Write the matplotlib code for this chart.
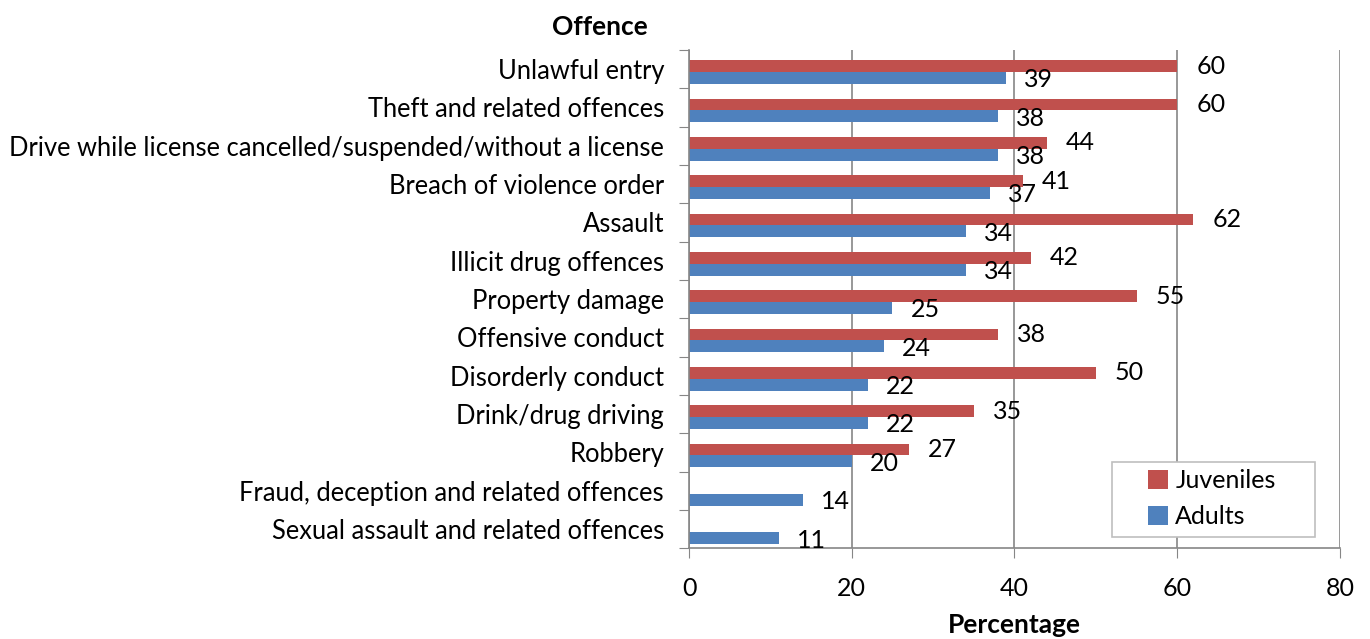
import matplotlib
matplotlib.use('Agg')
import matplotlib.pyplot as plt
from matplotlib.patches import Rectangle
import numpy as np

# data
offences = ['Unlawful entry', 'Theft and related offences',
            'Drive while license cancelled/suspended/without a license',
            'Breach of violence order', 'Assault', 'Illicit drug offences',
            'Property damage', 'Offensive conduct', 'Disorderly conduct',
            'Drink/drug driving', 'Robbery',
            'Fraud, deception and related offences',
            'Sexual assault and related offences']
juveniles = [60, 60, 44, 41, 62, 42, 55, 38, 50, 35, 27, np.nan, np.nan]
adults = [39, 38, 38, 37, 34, 34, 25, 24, 22, 22, 20, 14, 11]

juv_color = '#C0504D'
adu_color = '#4F81BD'
grid_color = '#868686'

plt.rcParams['font.family'] = ['Lato', 'DejaVu Sans']
fs = 18

fig = plt.figure(figsize=(13.7, 6.39), dpi=100)
ax = fig.add_axes([0.503, 0.142, 0.978 - 0.503, 0.922 - 0.142])

y = np.arange(len(offences))
h = 0.31
shift = 0.08
ax.barh(y + shift - h / 2, juveniles, height=h, color=juv_color, label='Juveniles')
ax.barh(y + shift + h / 2, adults, height=h, color=adu_color, label='Adults')

# value labels
for i, v in enumerate(juveniles):
    if not np.isnan(v):
        ax.annotate(f'{v:.0f}', (v, y[i] + shift - h / 2), xytext=(19, 0),
                    textcoords='offset pixels', va='center', ha='left', fontsize=fs)
for i, v in enumerate(adults):
    ax.annotate(f'{v:.0f}', (v, y[i] + shift + h / 2 + 0.05), xytext=(18, 0),
                textcoords='offset pixels', va='center', ha='left', fontsize=fs)

ax.set_xlim(0, 80)
ax.set_ylim(len(offences) - 0.5, -0.5)
ax.set_xticks([0, 20, 40, 60, 80])
ax.set_yticks(np.arange(len(offences) + 1) - 0.5)
ax.set_yticklabels([])
ax.set_yticks(y, minor=True)
ax.set_yticklabels(offences, minor=True, fontsize=18.4)
ax.tick_params(axis='y', which='minor', length=0, pad=18)
ax.tick_params(axis='y', which='major', length=7, color=grid_color)
ax.tick_params(axis='x', length=7, color=grid_color, labelsize=fs, pad=14)

ax.grid(axis='x', color=grid_color, linewidth=1.2)
ax.set_axisbelow(True)
for s in ['top', 'right']:
    ax.spines[s].set_visible(False)
for s in ['left', 'bottom']:
    ax.spines[s].set_color(grid_color)
    ax.spines[s].set_linewidth(1.2)

ax.set_xlabel('Percentage', fontsize=19, fontweight='bold', labelpad=9)
fig.text(0.438, 0.958, 'Offence', fontsize=19, fontweight='bold', ha='center', va='center')

# legend with a wide frame like the original
ax.add_patch(Rectangle((0.650, 0.022), 0.9616 - 0.650, 0.1727 - 0.022,
                       transform=ax.transAxes, facecolor='white',
                       edgecolor='#BFBFBF', linewidth=1.2, zorder=4))
leg = ax.legend(loc='center left', bbox_to_anchor=(0.705, 0.0994), fontsize=fs,
                frameon=False, borderpad=0, borderaxespad=0,
                handlelength=0.8, handleheight=0.8, handletextpad=0.3,
                labelspacing=0.5)
leg.set_zorder(5)

fig.savefig('out.png', dpi=100)
